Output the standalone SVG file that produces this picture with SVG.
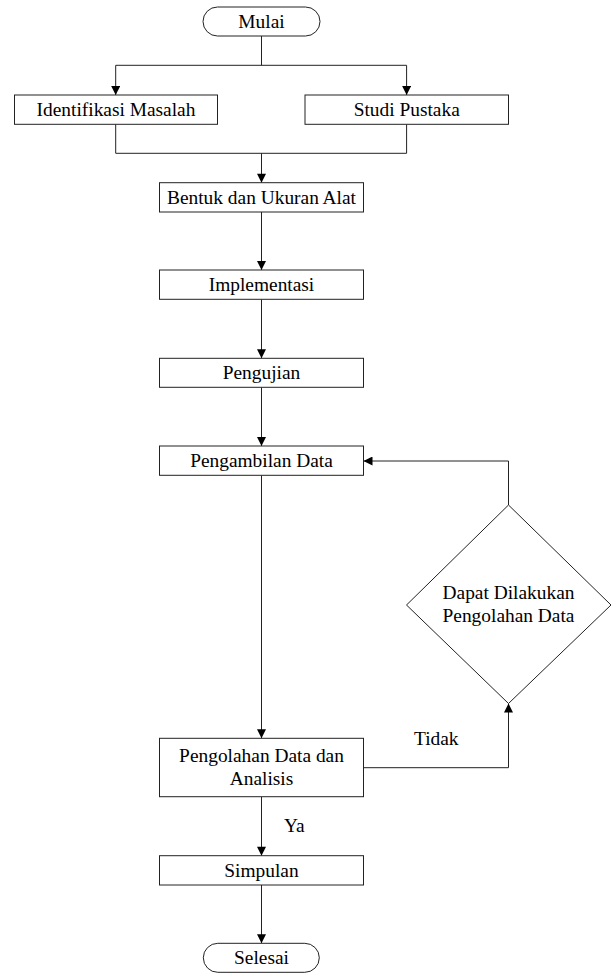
<svg xmlns="http://www.w3.org/2000/svg" width="613" height="973" viewBox="0 0 613 973">
<defs>
<marker id="ah" viewBox="0 0 10 10" refX="10" refY="5" markerWidth="10" markerHeight="9" markerUnits="userSpaceOnUse" orient="auto">
<path d="M0,0 L10,5 L0,10 Z" fill="#000"/>
</marker>
<style>
.b{fill:#fff;stroke:#222;stroke-width:1}
text{font-family:"Liberation Serif","Times New Roman",serif;font-size:19.4px;fill:#000}
.t{text-anchor:middle}
.c{fill:none;stroke:#222;stroke-width:1}
.a{marker-end:url(#ah)}
</style>
</defs>
<rect width="613" height="973" fill="#fff"/>
<g id="connectors">
<path class="c" d="M261.5,36 V65.3"/>
<path class="c" d="M115.7,65.3 H406.6"/>
<path class="c a" d="M115.7,65.3 V95"/>
<path class="c a" d="M406.6,65.3 V95"/>
<path class="c" d="M115.7,124.3 V153.3 H406.6 V124.3"/>
<path class="c a" d="M261.5,153.3 V182.7"/>
<path class="c a" d="M261.5,212 V270"/>
<path class="c a" d="M261.5,299.3 V358.3"/>
<path class="c a" d="M261.5,387.3 V446"/>
<path class="c a" d="M261.5,475.3 V738.3"/>
<path class="c a" d="M261.5,796.7 V855.7"/>
<path class="c a" d="M261.5,885 V943.3"/>
<path class="c a" d="M508.5,505 V461 H363.5"/>
<path class="c a" d="M363.5,767.7 H508.5 V703.5"/>
<text x="414" y="745">Tidak</text>
<text x="284" y="831.5">Ya</text>
</g>
<g id="mulai">
<rect class="b" x="203" y="7" width="117" height="29" rx="14.5"/>
<text class="t" x="261.5" y="28">Mulai</text>
</g>
<g id="identifikasi">
<rect class="b" x="14.5" y="95" width="203" height="29.3"/>
<text class="t" x="116" y="116">Identifikasi Masalah</text>
</g>
<g id="studi">
<rect class="b" x="305" y="95" width="203.5" height="29.3"/>
<text class="t" x="406.7" y="116">Studi Pustaka</text>
</g>
<g id="bentuk">
<rect class="b" x="159.5" y="182.7" width="204" height="29.3"/>
<text class="t" x="261.5" y="203.5">Bentuk dan Ukuran Alat</text>
</g>
<g id="implementasi">
<rect class="b" x="159.5" y="270" width="204" height="29.3"/>
<text class="t" x="261.5" y="290.8">Implementasi</text>
</g>
<g id="pengujian">
<rect class="b" x="159.5" y="358.3" width="204" height="29"/>
<text class="t" x="261.5" y="379">Pengujian</text>
</g>
<g id="pengambilan">
<rect class="b" x="159.5" y="446" width="204" height="29.3"/>
<text class="t" x="261.5" y="466.8">Pengambilan Data</text>
</g>
<g id="keputusan">
<polygon class="b" points="508.5,505 611,605 508.5,703.5 406.5,605"/>
<text class="t" x="508.5" y="599">Dapat Dilakukan</text>
<text class="t" x="508.5" y="621.7">Pengolahan Data</text>
</g>
<g id="pengolahan">
<rect class="b" x="159.5" y="738.3" width="204" height="58.4"/>
<text class="t" x="261.5" y="761.7">Pengolahan Data dan</text>
<text class="t" x="261.5" y="785">Analisis</text>
</g>
<g id="simpulan">
<rect class="b" x="159.5" y="855.7" width="204" height="29.3"/>
<text class="t" x="261.5" y="876.5">Simpulan</text>
</g>
<g id="selesai">
<rect class="b" x="203.3" y="943.3" width="116" height="29" rx="14.5"/>
<text class="t" x="261.5" y="964">Selesai</text>
</g>
</svg>
